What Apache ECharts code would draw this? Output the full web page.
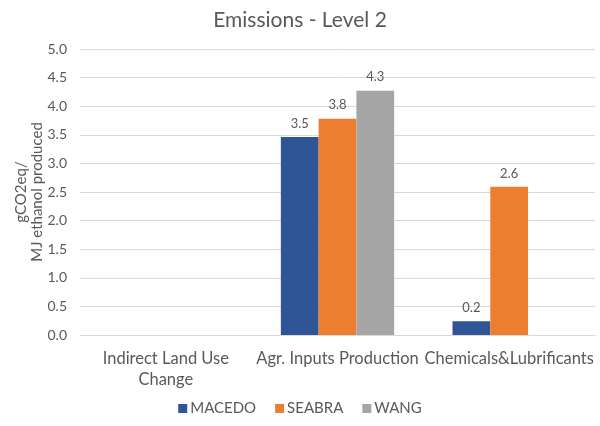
<!DOCTYPE html>
<html>
<head>
<meta charset="utf-8">
<script src="https://cdn.jsdelivr.net/npm/echarts@6/dist/echarts.min.js"></script>
<style>
  html, body { margin: 0; padding: 0; background: #fff; }
  #chart { width: 600px; height: 426px; }
</style>
</head>
<body>
<div id="chart"></div>
<script>
// Emission sources (x categories)
const categories = ['Indirect Land Use\nChange', 'Agr. Inputs Production', 'Chemicals&Lubrificants'];
// gCO2eq / MJ ethanol produced, per study
const macedo = [null, 3.46, 0.24];
const seabra = [null, 3.78, 2.59];
const wang   = [null, 4.27, null];
const yTicks = { min: 0, max: 5, interval: 0.5 };

const textColor = '#595959';
const font = 'Lato';

function barSeries(name, data, color) {
  return {
    name: name,
    type: 'bar',
    data: data,
    barGap: '0%',
    barCategoryGap: '34%',
    itemStyle: { color: color },
    label: {
      show: true,
      position: 'top',
      distance: 7,
      color: textColor,
      fontFamily: font,
      fontSize: 13,
      formatter: p => (p.value == null ? '' : p.value.toFixed(1))
    }
  };
}

const chart = echarts.init(document.getElementById('chart'));
chart.setOption({
  animation: false,
  title: {
    text: 'Emissions - Level 2',
    left: 'center',
    top: 5,
    textStyle: { color: textColor, fontFamily: font, fontSize: 21, fontWeight: 'normal' }
  },
  grid: { left: 80, right: 5, top: 49, bottom: 91, outerBoundsMode: 'none' },
  legend: {
    bottom: 5,
    left: 'center',
    itemWidth: 9,
    itemHeight: 9,
    itemGap: 19,
    icon: 'rect',
    textStyle: { color: textColor, fontFamily: font, fontSize: 15, padding: [0, 0, 0, -2] }
  },
  xAxis: {
    type: 'category',
    data: categories,
    axisTick: { show: false },
    axisLine: { lineStyle: { color: '#d9d9d9' } },
    axisLabel: { color: textColor, fontFamily: font, fontSize: 16.5, margin: 13, lineHeight: 21, interval: 0 }
  },
  yAxis: {
    type: 'value',
    min: yTicks.min,
    max: yTicks.max,
    interval: yTicks.interval,
    name: 'gCO2eq/\nMJ ethanol produced',
    nameLocation: 'middle',
    nameGap: 35,
    nameMoveOverlap: false,
    nameRotate: 90,
    nameTextStyle: { color: textColor, fontFamily: font, fontSize: 15, lineHeight: 16 },
    axisLine: { show: false },
    axisTick: { show: false },
    splitLine: { lineStyle: { color: '#d9d9d9' } },
    axisLabel: { color: textColor, fontFamily: font, fontSize: 14, margin: 13, formatter: v => v.toFixed(1) }
  },
  series: [
    barSeries('MACEDO', macedo, '#2F5597'),
    barSeries('SEABRA', seabra, '#ED7D31'),
    barSeries('WANG', wang, '#A5A5A5')
  ]
});
</script>
</body>
</html>
